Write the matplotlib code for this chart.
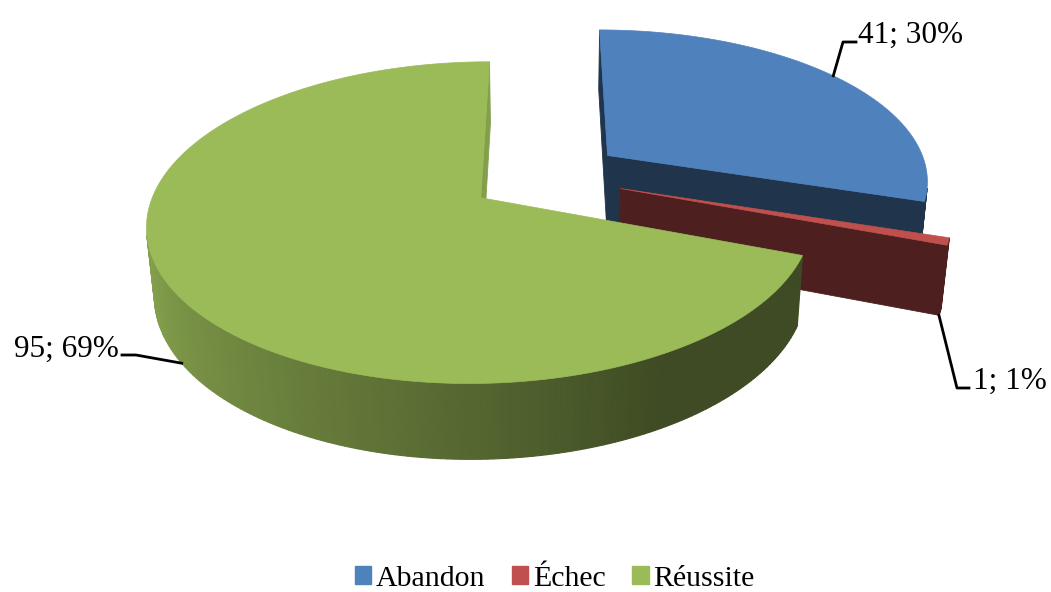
import numpy as np
import matplotlib.pyplot as plt
from matplotlib.patches import Polygon, Patch

labels = ['Abandon', 'Échec', 'Réussite']
values = [41, 1, 95]
colors = ['#4F81BD', '#C0504D', '#9BBB59']

W, H = 1051, 592

# 3-D view of the pie: camera tilt, distance, focal length, screen centre
elev = np.radians(27.9)
dist = 5.83
focal = 1875.0
cx, cy = 546.0, 176.5
explode = 0.242
thick = 0.24
start = 90.0

s_el, c_el = np.sin(elev), np.cos(elev)
cam = np.array([0.0, -dist * c_el, dist * s_el])


def project(X, Y, Z):
    X, Y, Z = np.asarray(X, float), np.asarray(Y, float), np.asarray(Z, float)
    d = dist + Y * c_el - Z * s_el
    return cx + focal * X / d, cy - focal * (Y * s_el + Z * c_el) / d


def shade(hexcol, k):
    rgb = np.array([int(hexcol[i:i + 2], 16) for i in (1, 3, 5)]) / 255.0
    return tuple(np.clip(rgb * k, 0, 1))


def side_k(phi):
    a = np.degrees(phi) % 360
    return np.interp(a, [0, 180, 200, 250, 270, 300, 360],
                     [0.40, 0.88, 0.85, 0.64, 0.55, 0.40, 0.40])


def facing(normal, pt):
    return np.dot(normal, cam - pt) > 0


fig = plt.figure(figsize=(W / 100, H / 100), dpi=100)
ax = fig.add_axes([0, 0, 1, 1])
ax.set_xlim(0, W)
ax.set_ylim(H, 0)
ax.axis('off')

total = float(sum(values))
edges = start - 360.0 * np.concatenate([[0], np.cumsum(values)]) / total

slices = []
for i, val in enumerate(values):
    a0, a1 = np.radians(edges[i]), np.radians(edges[i + 1])
    mid = 0.5 * (a0 + a1)
    vx, vy = explode * np.cos(mid), explode * np.sin(mid)
    slices.append((i, a0, a1, vx, vy))

# far slices first
slices.sort(key=lambda t: -t[4])

geo = {}
for i, a0, a1, vx, vy in slices:
    col = colors[i]
    n = max(4, int(abs(a1 - a0) / np.radians(1.0)))
    phi = np.linspace(a0, a1, n + 1)
    ox, oy = vx + np.cos(phi), vy + np.sin(phi)
    geo[i] = (phi, vx, vy)

    # flat radial faces
    for ang, nrm in ((a0, a0 + np.pi / 2), (a1, a1 - np.pi / 2)):
        nv = np.array([np.cos(nrm), np.sin(nrm), 0.0])
        mid_pt = np.array([vx + 0.5 * np.cos(ang), vy + 0.5 * np.sin(ang), -thick / 2])
        if facing(nv, mid_pt):
            X = [vx, vx + np.cos(ang), vx + np.cos(ang), vx]
            Y = [vy, vy + np.sin(ang), vy + np.sin(ang), vy]
            Z = [0, 0, -thick, -thick]
            u, v = project(X, Y, Z)
            k = 0.40 + 0.45 * max(0.0, np.cos(nrm))
            fc = shade(col, k)
            ax.add_patch(Polygon(np.c_[u, v], closed=True, fc=fc, ec=fc, lw=0.6))

    # curved outer wall
    quads = []
    for j in range(n):
        pm = 0.5 * (phi[j] + phi[j + 1])
        nv = np.array([np.cos(pm), np.sin(pm), 0.0])
        pt = np.array([vx + np.cos(pm), vy + np.sin(pm), -thick / 2])
        if not facing(nv, pt):
            continue
        X = [ox[j], ox[j + 1], ox[j + 1], ox[j]]
        Y = [oy[j], oy[j + 1], oy[j + 1], oy[j]]
        Z = [0, 0, -thick, -thick]
        quads.append((pt[1], X, Y, Z, side_k(pm)))
    quads.sort(key=lambda q: -q[0])
    for _, X, Y, Z, k in quads:
        u, v = project(X, Y, Z)
        fc = shade(col, k)
        ax.add_patch(Polygon(np.c_[u, v], closed=True, fc=fc, ec=fc, lw=0.8))

    # top face
    X = np.r_[vx, ox]
    Y = np.r_[vy, oy]
    u, v = project(X, Y, np.zeros_like(X))
    ax.add_patch(Polygon(np.c_[u, v], closed=True, fc=col, ec=col, lw=0.5))

# data labels with leader lines
font = dict(family='Liberation Serif', size=22.5, color='black')
pct = [round(100 * v / total) for v in values]
lab_txt = [f'{v}; {p}%' for v, p in zip(values, pct)]

# Abandon: leader from the top rim
phi, vx, vy = geo[0]
ang = np.radians(37)
ux, uy = project(vx + np.cos(ang), vy + np.sin(ang), 0)
tx, ty = 858, 43
ax.plot([ux, tx - 15, tx - 2], [uy, ty - 1, ty - 1], color='black', lw=2)
ax.text(tx, ty, lab_txt[0], ha='left', va='baseline', **font)

# Échec: leader from the lower outer corner
phi, vx, vy = geo[1]
ang = phi[-1]
ux, uy = project(vx + np.cos(ang), vy + np.sin(ang), -thick)
tx, ty = 973, 389
ax.plot([ux, tx - 16, tx - 4], [uy, ty - 1, ty - 1], color='black', lw=2)
ax.text(tx, ty, lab_txt[1], ha='left', va='baseline', **font)

# Réussite: leader from the bottom of the left wall
phi, vx, vy = geo[2]
ang = np.radians(213)
ux, uy = project(vx + np.cos(ang), vy + np.sin(ang), -thick)
tx, ty = 119, 357
ax.plot([ux, tx + 17, tx + 3], [uy, ty - 2, ty - 2], color='black', lw=2)
ax.text(tx, ty, lab_txt[2], ha='right', va='baseline', **font)

handles = [Patch(fc=c, ec=c) for c in colors]
fig.legend(handles, labels, loc='center', bbox_to_anchor=(554.5 / W, 1 - 578.5 / H),
           ncol=3, frameon=False, prop=dict(family='Liberation Serif', size=21.5),
           handlelength=0.55, handleheight=0.55, handletextpad=0.15,
           columnspacing=0.9, borderpad=0)

fig.savefig('out.png', dpi=100)
